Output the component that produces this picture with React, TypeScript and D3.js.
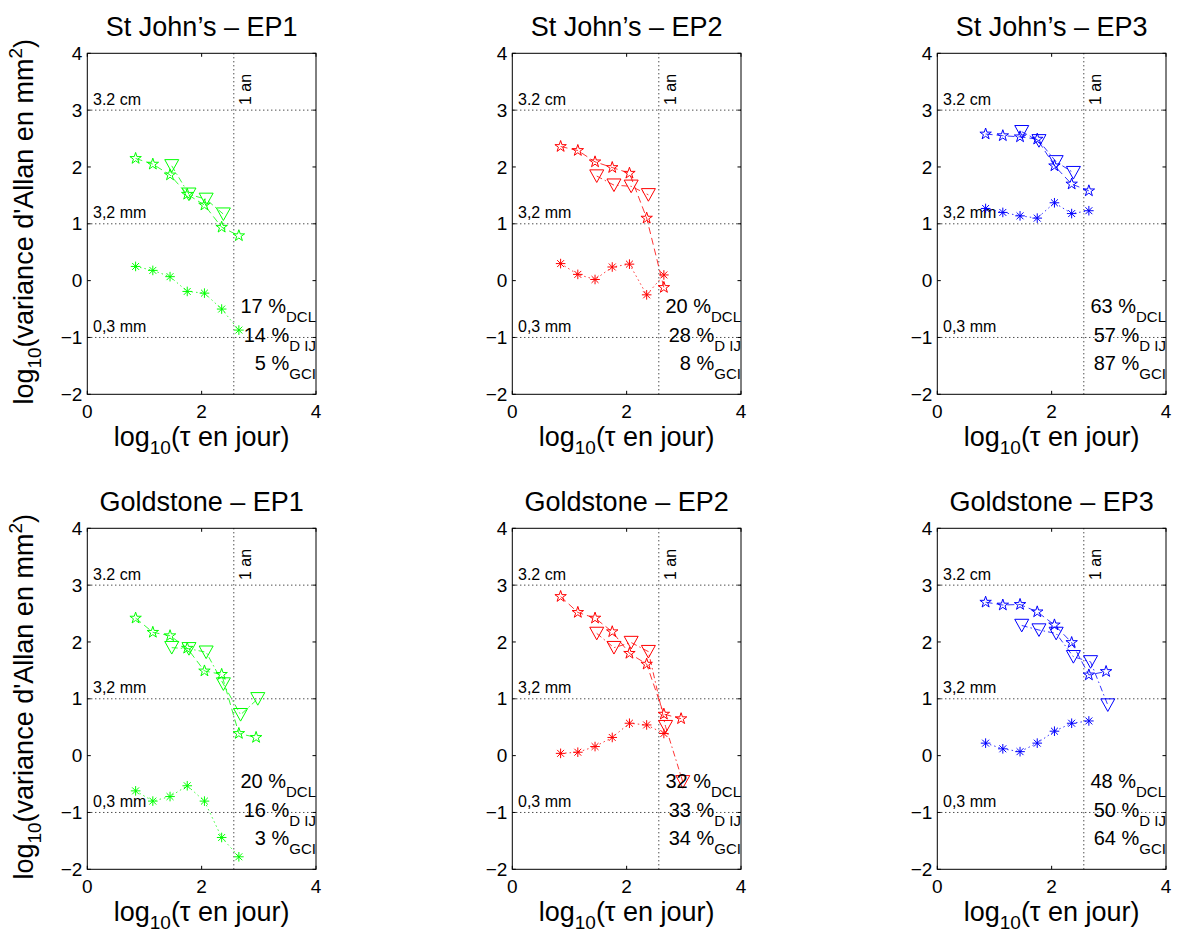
import React from "react";
import * as d3 from "d3";

// ---- data ----
const starX = [0.845, 1.146, 1.447, 1.748, 2.049, 2.35, 2.651, 2.952];
const triX = [1.477, 1.778, 2.079, 2.38, 2.681, 2.982];

const titles = [
  "St John’s – EP1",
  "St John’s – EP2",
  "St John’s – EP3",
  "Goldstone – EP1",
  "Goldstone – EP2",
  "Goldstone – EP3",
];
const colors = ["#00ff00", "#ff0000", "#0000ff", "#00ff00", "#ff0000", "#0000ff"];

const sjEP1Star = [2.15, 2.05, 1.86, 1.52, 1.33, 0.94, 0.79];
const sjEP1Tri = [2.02, 1.52, 1.43, 1.17];
const sjEP1Ast = [0.25, 0.18, 0.07, -0.19, -0.22, -0.5, -0.87];

const sjEP2Star = [2.36, 2.29, 2.09, 1.99, 1.89, 1.1, -0.12];
const sjEP2Tri = [1.84, 1.68, 1.66, 1.51];
const sjEP2Ast = [0.3, 0.11, 0.02, 0.24, 0.29, -0.25, 0.1];

const sjEP3Star = [2.58, 2.55, 2.53, 2.49, 2.02, 1.7, 1.58];
const sjEP3Tri = [2.62, 2.46, 2.09, 1.9];
const sjEP3Ast = [1.27, 1.2, 1.14, 1.1, 1.37, 1.18, 1.23];

const gsEP1Star = [2.42, 2.17, 2.11, 1.89, 1.49, 1.43, 0.39, 0.32];
const gsEP1Tri = [1.9, 1.88, 1.82, 1.26, 0.72, 1.0];
const gsEP1Ast = [-0.62, -0.8, -0.72, -0.53, -0.8, -1.44, -1.78];

const gsEP2Star = [2.8, 2.52, 2.42, 2.18, 1.8, 1.61, 0.73, 0.65];
const gsEP2Tri = [2.15, 1.9, 1.99, 1.83, 0.51, -0.46];
const gsEP2Ast = [0.04, 0.06, 0.16, 0.32, 0.57, 0.54, 0.39];

const gsEP3Star = [2.7, 2.65, 2.66, 2.53, 2.3, 1.99, 1.42, 1.48];
const gsEP3Tri = [2.29, 2.21, 2.15, 1.74, 1.65, 0.89];
const gsEP3Ast = [0.22, 0.12, 0.07, 0.22, 0.43, 0.57, 0.61];

const starSeries = [sjEP1Star, sjEP2Star, sjEP3Star, gsEP1Star, gsEP2Star, gsEP3Star];
const triSeries = [sjEP1Tri, sjEP2Tri, sjEP3Tri, gsEP1Tri, gsEP2Tri, gsEP3Tri];
const astSeries = [sjEP1Ast, sjEP2Ast, sjEP3Ast, gsEP1Ast, gsEP2Ast, gsEP3Ast];

const pctDCL = [17, 20, 63, 20, 32, 48];
const pctDIJ = [14, 28, 57, 16, 33, 50];
const pctGCI = [5, 8, 87, 3, 34, 64];

const yTicks = [-2, -1, 0, 1, 2, 3, 4];
const xTicks = [0, 2, 4];
const gridY = [3, 1, -1];
const gridLabels = ["3.2 cm", "3,2 mm", "0,3 mm"];
const oneYear = Math.log10(365);

// ---- layout ----
const colLeft = [87.3, 512.3, 937.3];
const rowTop = [53.3, 528.3];
const W = 228.7;
const H = 341;
const FONT = "'Liberation Sans', Arial, Helvetica, sans-serif";

function starPath(R: number) {
  const r = R * 0.382;
  const pts: [number, number][] = [];
  for (let k = 0; k < 10; k++) {
    const a = -Math.PI / 2 + (k * Math.PI) / 5;
    const rr = k % 2 === 0 ? R : r;
    pts.push([rr * Math.cos(a), rr * Math.sin(a)]);
  }
  return "M" + pts.map((p) => p[0].toFixed(2) + "," + p[1].toFixed(2)).join("L") + "Z";
}
const STAR = starPath(6);
const TRI = "M-7,-6.2L7,-6.2L0,6.4Z";
const ar = 4.8;
const ad = ar * 0.72;
const AST = `M0,${-ar}V${ar}M${-ar},0H${ar}M${-ad},${-ad}L${ad},${ad}M${-ad},${ad}L${ad},${-ad}`;

function Panel({ idx }: { idx: number }) {
  const col = idx % 3;
  const row = Math.floor(idx / 3);
  const x0 = colLeft[col];
  const y0 = rowTop[row];
  const x = d3.scaleLinear().domain([0, 4]).range([x0, x0 + W]);
  const y = d3.scaleLinear().domain([-2, 4]).range([y0 + H, y0]);
  const color = colors[idx];
  const line = d3
    .line<[number, number]>()
    .x((d) => x(d[0]))
    .y((d) => y(d[1]));
  const stars: [number, number][] = starSeries[idx].map((v, i) => [starX[i], v]);
  const tris: [number, number][] = triSeries[idx].map((v, i) => [triX[i], v]);
  const asts: [number, number][] = astSeries[idx].map((v, i) => [starX[i], v]);
  const tl = 3.5;
  const right = x0 + W;
  const pctBase = [y(0) + 32.7, y(0) + 61, y(0) + 89.3];
  const pctVals = [pctDCL[idx], pctDIJ[idx], pctGCI[idx]];
  const pctSubs = ["DCL", "D IJ", "GCI"];
  return (
    <g>
      {/* grid */}
      {gridY.map((g, i) => (
        <g key={"g" + i}>
          <line
            x1={x(0)}
            x2={x(4)}
            y1={y(g)}
            y2={y(g)}
            stroke="#000"
            strokeWidth={1}
            strokeDasharray="1,3"
          />
          <text
            x={x(0.1)}
            y={y(g) - 5.5}
            fontSize={16}
            fontFamily={FONT}
            fill="#000"
          >
            {gridLabels[i]}
          </text>
        </g>
      ))}
      <line
        x1={x(oneYear)}
        x2={x(oneYear)}
        y1={y(-2)}
        y2={y(4)}
        stroke="#000"
        strokeWidth={1}
        strokeDasharray="1,3"
      />
      <text
        transform={`translate(${x(oneYear) + 17},${y(3.09)}) rotate(-90)`}
        fontSize={16}
        fontFamily={FONT}
        fill="#000"
      >
        1 an
      </text>
      {/* series lines */}
      <path d={line(stars) || ""} fill="none" stroke={color} strokeWidth={0.8} strokeDasharray="7,4" />
      <path d={line(tris) || ""} fill="none" stroke={color} strokeWidth={0.8} strokeDasharray="6,3,1.5,3" />
      <path d={line(asts) || ""} fill="none" stroke={color} strokeWidth={0.8} strokeDasharray="1.5,3" />
      {/* markers */}
      {stars.map((d, i) => (
        <path key={"s" + i} d={STAR} transform={`translate(${x(d[0])},${y(d[1])})`} fill="none" stroke={color} strokeWidth={1} />
      ))}
      {tris.map((d, i) => (
        <path key={"t" + i} d={TRI} transform={`translate(${x(d[0])},${y(d[1])})`} fill="none" stroke={color} strokeWidth={1} />
      ))}
      {asts.map((d, i) => (
        <path key={"a" + i} d={AST} transform={`translate(${x(d[0])},${y(d[1])})`} fill="none" stroke={color} strokeWidth={1} />
      ))}
      {/* percentages */}
      {pctVals.map((v, i) => (
        <text
          key={"p" + i}
          x={right}
          y={pctBase[i]}
          textAnchor="end"
          fontFamily={FONT}
          fontSize={20}
          fill="#000"
        >
          {v + " %"}
          <tspan fontSize={15} dy={9}>
            {pctSubs[i]}
          </tspan>
        </text>
      ))}
      {/* axes box */}
      <rect x={x0} y={y0} width={W} height={H} fill="none" stroke="#000" strokeWidth={1} />
      {yTicks.map((t) => (
        <g key={"yt" + t}>
          <line x1={x0} x2={x0 + tl} y1={y(t)} y2={y(t)} stroke="#000" />
          <line x1={right} x2={right - tl} y1={y(t)} y2={y(t)} stroke="#000" />
          <text
            x={x0 - 5}
            y={y(t)}
            dy="0.35em"
            textAnchor="end"
            fontFamily={FONT}
            fontSize={19}
            fill="#000"
          >
            {t < 0 ? "−" + Math.abs(t) : String(t)}
          </text>
        </g>
      ))}
      {xTicks.map((t) => (
        <g key={"xt" + t}>
          <line x1={x(t)} x2={x(t)} y1={y0 + H} y2={y0 + H - tl} stroke="#000" />
          <line x1={x(t)} x2={x(t)} y1={y0} y2={y0 + tl} stroke="#000" />
          <text
            x={x(t)}
            y={y0 + H + 24}
            textAnchor="middle"
            fontFamily={FONT}
            fontSize={19}
            fill="#000"
          >
            {String(t)}
          </text>
        </g>
      ))}
      {/* title */}
      <text
        x={x0 + W / 2}
        y={y0 - 17.5}
        textAnchor="middle"
        fontFamily={FONT}
        fontSize={27}
        fill="#000"
      >
        {titles[idx]}
      </text>
      {/* x label */}
      <text
        x={x0 + W / 2}
        y={y0 + H + 51.5}
        textAnchor="middle"
        fontFamily={FONT}
        fontSize={27}
        fill="#000"
      >
        log
        <tspan fontSize={19} dy={8}>
          10
        </tspan>
        <tspan dy={-8}>(τ en jour)</tspan>
      </text>
      {/* y label */}
      {col === 0 && (
        <text
          transform={`translate(33,${y0 + H / 2 - 2}) rotate(-90)`}
          textAnchor="middle"
          fontFamily={FONT}
          fontSize={27}
          fill="#000"
        >
          log
          <tspan fontSize={19} dy={8}>
            10
          </tspan>
          <tspan dy={-8}>(variance d'Allan en mm</tspan>
          <tspan fontSize={19} dy={-11}>
            2
          </tspan>
          <tspan dy={11}>)</tspan>
        </text>
      )}
    </g>
  );
}

export default function App() {
  return (
    <svg
      width={1180}
      height={943}
      style={{ position: "absolute", left: 0, top: 0, background: "#fff" }}
    >
      <rect x={0} y={0} width={1180} height={943} fill="#fff" />
      {[0, 1, 2, 3, 4, 5].map((i) => (
        <Panel key={i} idx={i} />
      ))}
    </svg>
  );
}
